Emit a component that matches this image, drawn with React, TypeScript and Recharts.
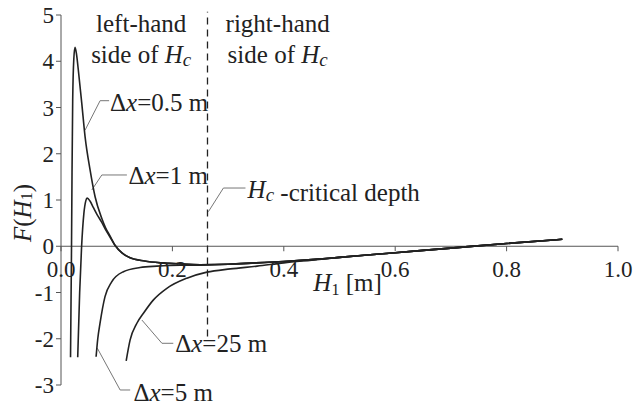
import React from 'react';
import { LineChart, Line, XAxis, YAxis, ReferenceLine, ReferenceDot } from 'recharts';

const SERIF = '"Liberation Serif"';
const INK = '#222';
const AXIS = '#555';
const LEADER = '#777';
const NOTE_SIZE = 25;
const TICK_SIZE = 23;

// shared tail once the curves have merged (H1 >= ~0.35)
const tailH = [0.35, 0.4, 0.45, 0.5, 0.6, 0.7, 0.8, 0.9];
const tailF = [-0.36, -0.33, -0.29, -0.24, -0.14, -0.04, 0.06, 0.15];

const dx05H = [0.0171, 0.018, 0.0189, 0.0198, 0.021, 0.023, 0.0252, 0.0279, 0.0311, 0.0373, 0.0432, 0.0522, 0.0612, 0.0733, 0.08, 0.0882, 0.097, 0.11, 0.124, 0.15, 0.18, 0.21, 0.25, 0.3];
const dx05F = [-2.4, -1.2, 0, 1.6, 3.16, 4.05, 4.3, 4.15, 3.81, 3.09, 2.37, 1.65, 1.07, 0.6, 0.4, 0.22, 0.02, -0.15, -0.25, -0.32, -0.36, -0.38, -0.4, -0.39];

const dx1H = [0.03, 0.0335, 0.037, 0.041, 0.0445, 0.047, 0.052, 0.058, 0.065, 0.073, 0.08, 0.088, 0.097, 0.11, 0.124, 0.15, 0.18, 0.21, 0.25, 0.3];
const dx1F = [-2.4, -1.0, 0, 0.7, 0.98, 1.04, 0.98, 0.84, 0.68, 0.52, 0.36, 0.2, 0.02, -0.15, -0.25, -0.32, -0.36, -0.38, -0.4, -0.39];

const dx5H = [0.063, 0.066, 0.07, 0.079, 0.091, 0.112, 0.142, 0.172, 0.214, 0.25, 0.3];
const dx5F = [-2.39, -2.0, -1.67, -1.09, -0.77, -0.55, -0.46, -0.43, -0.41, -0.41, -0.39];

const dx25H = [0.117, 0.124, 0.136, 0.148, 0.166, 0.19, 0.226, 0.262, 0.304, 0.352, 0.4, 0.45];
const dx25F = [-2.48, -2.03, -1.67, -1.45, -1.16, -0.91, -0.69, -0.56, -0.49, -0.43, -0.36, -0.3];

const xTicks = [0, 0.2, 0.4, 0.6, 0.8, 1.0];
const yTicks = [-3, -2, -1, 0, 1, 2, 3, 4, 5];

const Hc = 0.263;

const build = (hs: number[], fs: number[]) => {
  const pts = hs.map((h, i) => ({ h, f: fs[i] }));
  tailH.forEach((h, i) => {
    if (h > pts[pts.length - 1].h) pts.push({ h, f: tailF[i] });
  });
  return pts;
};

const series = [
  { name: 'dx05', data: build(dx05H, dx05F) },
  { name: 'dx1', data: build(dx1H, dx1F) },
  { name: 'dx5', data: build(dx5H, dx5F) },
  { name: 'dx25', data: build(dx25H, dx25F) },
];

// leader lines: [curve point, elbow, text end]
const leaders = [
  [[0.0432, 2.51], [0.0702, 3.147], [0.0864, 3.147]],
  [[0.0553, 1.216], [0.0733, 1.541], [0.1183, 1.541]],
  [[0.2646, 0.747], [0.2916, 1.259], [0.3312, 1.259]],
  [[0.1452, -1.595], [0.1812, -2.098], [0.2016, -2.098]],
  [[0.0653, -2.206], [0.1062, -3.108], [0.1242, -3.108]],
];

const it = (s: string) => <tspan fontStyle="italic">{s}</tspan>;
const HcText = () => (
  <>
    {it('H')}
    <tspan fontStyle="italic" fontSize={19} dy={3}>c</tspan>
    <tspan dy={-3}></tspan>
  </>
);

const notes: { h: number; f: number; anchor: 'start' | 'middle'; content: React.ReactNode }[] = [
  { h: 0.144, f: 4.63, anchor: 'middle', content: 'left-hand' },
  { h: 0.144, f: 3.96, anchor: 'middle', content: <>side of <HcText /></> },
  { h: 0.389, f: 4.63, anchor: 'middle', content: 'right-hand' },
  { h: 0.389, f: 3.96, anchor: 'middle', content: <>side of <HcText /></> },
  { h: 0.088, f: 2.935, anchor: 'start', content: <>Δ{it('x')}=0.5 m</> },
  { h: 0.121, f: 1.346, anchor: 'start', content: <>Δ{it('x')}=1 m</> },
  { h: 0.335, f: 1.043, anchor: 'start', content: <><HcText /> -critical depth</> },
  { h: 0.205, f: -2.287, anchor: 'start', content: <>Δ{it('x')}=25 m</> },
  { h: 0.13, f: -3.346, anchor: 'start', content: <>Δ{it('x')}=5 m</> },
];

const YLabel = (props: any) => {
  const vb = props.viewBox || { x: 11, y: 15, width: 50, height: 370 };
  const x = vb.x + 11;
  const y = vb.y + vb.height / 2 + 13;
  return (
    <text
      x={x}
      y={y}
      transform={`rotate(-90 ${x} ${y})`}
      textAnchor="middle"
      dominantBaseline="central"
      style={{ fontFamily: SERIF }}
      fontSize={NOTE_SIZE}
      fill={INK}
    >
      {it('F')}({it('H')}
      <tspan fontSize={16} dy={4}>1</tspan>
      <tspan dy={-4}>)</tspan>
    </text>
  );
};

export default function App() {
  return (
    <div style={{ position: 'absolute', left: 0, top: 0, background: '#fff' }}>
      <LineChart width={636} height={406} margin={{ top: 15, right: 18, bottom: 21, left: 11 }}>
        <XAxis dataKey="h" type="number" domain={[0, 1]} hide />
        <YAxis
          type="number"
          domain={[-3, 5]}
          ticks={yTicks}
          width={50}
          interval={0}
          stroke={AXIS}
          tickSize={5}
          tick={{ fontSize: TICK_SIZE, fill: INK, style: { fontFamily: SERIF } }}
          label={{ content: YLabel }}
        />
        {/* x axis drawn along F = 0 */}
        <ReferenceLine y={0} stroke={AXIS} strokeWidth={1} />
        {xTicks.map((t) => (
          <ReferenceDot
            key={'xt' + t}
            x={t}
            y={0}
            ifOverflow="visible"
            shape={(p: any) => (
              <g>
                <line x1={p.cx} y1={p.cy} x2={p.cx} y2={p.cy + 5} stroke={AXIS} />
                <text x={p.cx} y={p.cy + 23} textAnchor="middle" dominantBaseline="central" style={{ fontFamily: SERIF }} fontSize={TICK_SIZE} fill={INK}>
                  {t.toFixed(1)}
                </text>
              </g>
            )}
          />
        ))}
        <ReferenceDot
          x={0.453}
          y={0}
          ifOverflow="visible"
          shape={(p: any) => (
            <text x={p.cx} y={p.cy + 45} style={{ fontFamily: SERIF }} fontSize={NOTE_SIZE} fill={INK}>
              {it('H')}
              <tspan fontSize={16} dy={4}>1</tspan>
              <tspan dy={-4}> [m]</tspan>
            </text>
          )}
        />
        <ReferenceLine
          segment={[{ x: Hc, y: -1.95 }, { x: Hc, y: 5.07 }]}
          stroke={INK}
          strokeWidth={1.3}
          strokeDasharray="7 5"
          ifOverflow="visible"
        />
        {leaders.map((l, i) => (
          <React.Fragment key={'ld' + i}>
            <ReferenceLine segment={[{ x: l[0][0], y: l[0][1] }, { x: l[1][0], y: l[1][1] }]} stroke={LEADER} strokeWidth={1} ifOverflow="visible" />
            <ReferenceLine segment={[{ x: l[1][0], y: l[1][1] }, { x: l[2][0], y: l[2][1] }]} stroke={LEADER} strokeWidth={1} ifOverflow="visible" />
          </React.Fragment>
        ))}
        {series.map((s) => (
          <Line
            key={s.name}
            data={s.data}
            dataKey="f"
            type="monotone"
            stroke={INK}
            strokeWidth={1.6}
            dot={false}
            activeDot={false}
            isAnimationActive={false}
          />
        ))}
        {notes.map((n, i) => (
          <ReferenceDot
            key={'nt' + i}
            x={n.h}
            y={n.f}
            ifOverflow="visible"
            shape={(p: any) => (
              <text x={p.cx} y={p.cy} textAnchor={n.anchor} style={{ fontFamily: SERIF }} fontSize={NOTE_SIZE} fill={INK}>
                {n.content}
              </text>
            )}
          />
        ))}
      </LineChart>
    </div>
  );
}
